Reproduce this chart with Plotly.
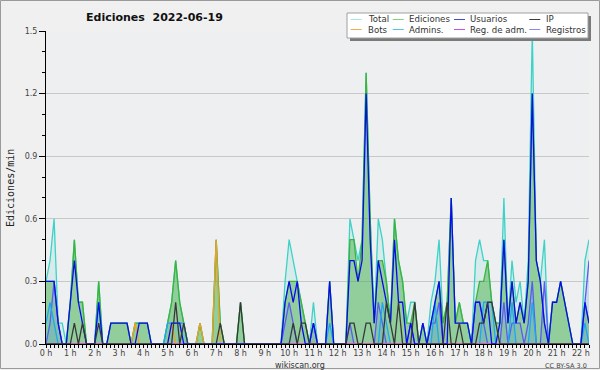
import plotly.graph_objects as go

# ---------------- data (edits per minute, 10-minute bins, 2022-06-19) ----------------
hours = [i * 10 / 60 for i in range(135)]

total = [
    0.3, 0.4, 0.6, 0.1, 0.1, 0, 0.2, 0.5, 0.2, 0.2,
    0, 0, 0, 0.3, 0, 0, 0.1, 0.1, 0.1, 0.1,
    0.1, 0, 0.1, 0.1, 0.1, 0.1, 0, 0, 0, 0,
    0.1, 0.2, 0.4, 0.2, 0.1, 0, 0, 0, 0.1, 0,
    0, 0, 0.5, 0.1, 0, 0, 0, 0, 0.2, 0,
    0, 0, 0, 0, 0, 0, 0, 0, 0, 0.3,
    0.5, 0.4, 0.3, 0.2, 0.1, 0, 0.2, 0, 0, 0,
    0.3, 0, 0, 0, 0, 0.6, 0.5, 0.4, 0.5, 1.3,
    0.6, 0.1, 0.6, 0.5, 0.3, 0.1, 0.6, 0.4, 0.3, 0.1,
    0.2, 0.2, 0, 0.1, 0, 0.2, 0.3, 0.5, 0.1, 0.2,
    0.7, 0.1, 0.2, 0.1, 0.1, 0, 0.4, 0.5, 0.4, 0.4,
    0.2, 0.1, 0.1, 0.7, 0.1, 0.4, 0.2, 0.3, 0.1, 0.4,
    1.5, 0.4, 0.3, 0.5, 0, 0.2, 0.2, 0.3, 0.2, 0.1,
    0, 0, 0, 0.4, 0.5,
]
ediciones = [
    0.3, 0.3, 0.3, 0.1, 0, 0, 0.2, 0.5, 0.2, 0.2,
    0, 0, 0, 0.3, 0, 0, 0.1, 0.1, 0.1, 0.1,
    0.1, 0, 0.1, 0.1, 0.1, 0.1, 0, 0, 0, 0,
    0.1, 0.2, 0.4, 0.2, 0.1, 0, 0, 0, 0.1, 0,
    0, 0, 0.5, 0.1, 0, 0, 0, 0, 0.2, 0,
    0, 0, 0, 0, 0, 0, 0, 0, 0, 0.2,
    0.3, 0.3, 0.3, 0.2, 0.1, 0, 0.1, 0, 0, 0,
    0.3, 0, 0, 0, 0, 0.5, 0.5, 0.3, 0.5, 1.3,
    0.6, 0.1, 0.4, 0.4, 0.3, 0.1, 0.6, 0.4, 0.3, 0.1,
    0.1, 0.2, 0, 0.1, 0, 0.1, 0.2, 0.3, 0.1, 0.2,
    0.7, 0.1, 0.2, 0.1, 0.1, 0, 0.2, 0.3, 0.3, 0.4,
    0.2, 0.1, 0.1, 0.5, 0.1, 0.3, 0.1, 0.2, 0.1, 0.3,
    1.2, 0.4, 0.3, 0.1, 0, 0.2, 0.2, 0.3, 0.2, 0.1,
    0, 0, 0, 0.2, 0.1,
]
usuarios = [
    0.3, 0.3, 0.3, 0.1, 0, 0, 0.2, 0.4, 0.2, 0.1,
    0, 0, 0, 0.2, 0, 0, 0.1, 0.1, 0.1, 0.1,
    0.1, 0, 0, 0.1, 0.1, 0.1, 0, 0, 0, 0,
    0, 0.1, 0.1, 0.1, 0, 0, 0, 0, 0, 0,
    0, 0, 0, 0, 0, 0, 0, 0, 0, 0,
    0, 0, 0, 0, 0, 0, 0, 0, 0, 0.2,
    0.3, 0.2, 0.3, 0.1, 0, 0, 0.1, 0, 0, 0,
    0.3, 0, 0, 0, 0, 0.4, 0.4, 0.3, 0.4, 1.2,
    0.5, 0.1, 0.4, 0.3, 0.2, 0.1, 0.5, 0.2, 0.2, 0,
    0.1, 0, 0, 0.1, 0, 0.1, 0.2, 0.3, 0, 0,
    0.7, 0.1, 0.1, 0.1, 0.1, 0, 0.2, 0.2, 0.1, 0.2,
    0, 0, 0.1, 0.5, 0.1, 0.3, 0.1, 0.2, 0.1, 0.3,
    1.2, 0.4, 0.3, 0.1, 0, 0.2, 0.2, 0.3, 0.2, 0.1,
    0, 0, 0, 0.2, 0.1,
]
ip = [
    0, 0, 0, 0, 0, 0, 0, 0.1, 0, 0.1,
    0, 0, 0, 0.1, 0, 0, 0, 0, 0, 0,
    0, 0, 0, 0, 0, 0, 0, 0, 0, 0,
    0, 0, 0.2, 0, 0.1, 0, 0, 0, 0, 0,
    0, 0, 0, 0.1, 0, 0, 0, 0, 0.2, 0,
    0, 0, 0, 0, 0, 0, 0, 0, 0, 0,
    0, 0.1, 0, 0.1, 0.1, 0, 0, 0, 0, 0,
    0, 0, 0, 0, 0, 0.1, 0.1, 0, 0, 0.1,
    0.1, 0, 0, 0, 0.2, 0.1, 0, 0.2, 0, 0,
    0, 0.2, 0, 0, 0, 0, 0, 0, 0, 0.2,
    0, 0, 0.1, 0, 0, 0, 0, 0.1, 0.1, 0.2,
    0.2, 0.1, 0, 0, 0, 0, 0, 0, 0, 0,
    0, 0, 0, 0, 0, 0, 0, 0, 0, 0,
    0, 0, 0, 0, 0,
]
bots = [0] * 135
for k, v in {22: 0.1, 31: 0.1, 38: 0.1, 42: 0.5}.items():
    bots[k] = v
admins = [0] * 135
for k, v in {0: 0.1, 1: 0.2, 2: 0.1, 13: 0.2, 30: 0.1, 31: 0.1, 32: 0.1, 33: 0.1, 34: 0.1,
             70: 0.1, 83: 0.2, 84: 0.1, 96: 0.2, 108: 0.2, 109: 0.2, 110: 0.2, 115: 0.2,
             120: 0.2, 133: 0.1}.items():
    admins[k] = v
reg_adm = [0] * 135
registros = [0] * 135
for k, v in {1: 0.1, 2: 0.3, 3: 0.1, 59: 0.1, 60: 0.2, 61: 0.1, 66: 0.1, 75: 0.1, 82: 0.2,
             83: 0.1, 90: 0.1, 95: 0.1, 96: 0.1, 97: 0.2, 106: 0.2, 107: 0.2, 108: 0.1,
             113: 0.2, 115: 0.1, 116: 0.1, 117: 0.1, 119: 0.1, 120: 0.3, 123: 0.3,
             133: 0.2, 134: 0.4}.items():
    registros[k] = v

# ---------------- styling ----------------
W, H = 600, 370
L, R, T, B = 46, 11, 31, 26
PW, PH = W - L - R, H - T - B


def fx(px):
    return (px - L) / PW


def fy(py):
    return (H - B - py) / PH


C_TOTAL = "#3dd2c8"
C_EDI = "#3cb43c"
C_USU = "#0a0aee"
C_IP = "#383838"
C_BOTS = "#f0a020"
C_ADM = "#1ea8f0"
C_REGADM = "#d040d0"
C_REG = "#5a5af5"

fig = go.Figure()


def add(y, color, name, fill=None, fillcolor=None, width=1.3):
    fig.add_trace(go.Scatter(
        x=hours, y=y, mode="lines", name=name, showlegend=False,
        line=dict(color=color, width=width),
        fill=fill, fillcolor=fillcolor, hoverinfo="skip",
    ))


add(total, C_TOTAL, "Total", "tozeroy", "rgba(61,210,200,0.13)")
add(ediciones, C_EDI, "Ediciones", "tozeroy", "rgba(60,170,60,0.45)")
add(registros, C_REG, "Registros", "tozeroy", "rgba(90,90,245,0.12)")
add(admins, C_ADM, "Admins.", "tozeroy", "rgba(30,168,240,0.12)")
add(bots, C_BOTS, "Bots")
add(reg_adm, C_REGADM, "Reg. de adm.")
add(usuarios, C_USU, "Usuarios")
add(ip, C_IP, "IP")

shapes = []
annotations = []

# outer frame
shapes.append(dict(type="rect", xref="paper", yref="paper", layer="above",
                   x0=fx(0.5), x1=fx(599.5), y0=fy(368.5), y1=fy(0.5),
                   line=dict(color="#9a9a9a", width=1)))

# legend (drawn manually)
shapes.append(dict(type="rect", xref="paper", yref="paper", layer="above",
                   x0=fx(350), x1=fx(591), y0=fy(41), y1=fy(16),
                   fillcolor="#7a7a7a", line=dict(width=0)))
shapes.append(dict(type="rect", xref="paper", yref="paper", layer="above",
                   x0=fx(347), x1=fx(588), y0=fy(38), y1=fy(13),
                   fillcolor="white", line=dict(color="#a0a0a0", width=1)))

legend_rows = [
    [("Total", "#a6e6e2"), ("Ediciones", "#86d086"), ("Usuarios", "#4848d0"), ("IP", "#3c3c3c")],
    [("Bots", "#f0aa50"), ("Admins.", "#50c8e0"), ("Reg. de adm.", "#c850e6"), ("Registros", "#8888f0")],
]
sample_x = [350.7, 392.7, 454.0, 529.3]
text_x = [365.5, 406.5, 468.0, 543.8]
row_y = [19.5, 29.5]
for r, row in enumerate(legend_rows):
    for c, (label, col) in enumerate(row):
        shapes.append(dict(type="line", xref="paper", yref="paper", layer="above",
                           x0=fx(sample_x[c]), x1=fx(sample_x[c] + 11),
                           y0=fy(row_y[r]), y1=fy(row_y[r]),
                           line=dict(color=col, width=1)))
        annotations.append(dict(xref="paper", yref="paper", x=fx(text_x[c]), y=fy(row_y[r]),
                                xanchor="left", yanchor="middle", showarrow=False,
                                text=label, font=dict(family="DejaVu Sans", size=8.6, color="#333333")))

# title
annotations.append(dict(xref="paper", yref="paper", x=fx(154), y=fy(17),
                        xanchor="center", yanchor="middle", showarrow=False,
                        text="<b>Ediciones\u00a0\u00a02022-06-19</b>",
                        font=dict(family="DejaVu Sans", size=11, color="#111111")))
# y-axis title
annotations.append(dict(xref="paper", yref="paper", x=fx(10), y=fy(188),
                        xanchor="center", yanchor="middle", showarrow=False, textangle=-90,
                        text="Ediciones/min",
                        font=dict(family="DejaVu Sans Mono", size=10, color="#222222")))
# footer
annotations.append(dict(xref="paper", yref="paper", x=fx(300), y=fy(365.5),
                        xanchor="center", yanchor="middle", showarrow=False,
                        text="wikiscan.org",
                        font=dict(family="DejaVu Sans", size=8, color="#333333")))
annotations.append(dict(xref="paper", yref="paper", x=fx(589), y=fy(366),
                        xanchor="right", yanchor="middle", showarrow=False,
                        text="CC BY-SA 3.0",
                        font=dict(family="DejaVu Sans", size=6.5, color="#444444")))

fig.update_layout(
    width=W, height=H,
    margin=dict(l=L, r=R, t=T, b=B, pad=0),
    paper_bgcolor="#f0f0f0",
    plot_bgcolor="#eeeff0",
    showlegend=False,
    shapes=shapes,
    annotations=annotations,
    xaxis=dict(
        range=[0, hours[-1]], tickmode="linear", tick0=0, dtick=1, ticksuffix=" h",
        showgrid=False, zeroline=False, showline=True, linecolor="black", linewidth=1,
        ticks="outside", ticklen=3, tickcolor="black", ticklabelstandoff=-2,
        minor=dict(dtick=1 / 6, ticks="outside", ticklen=3, tickcolor="black", showgrid=False),
        tickfont=dict(family="DejaVu Sans", size=8, color="#444444"),
        fixedrange=True,
    ),
    yaxis=dict(
        range=[0, 1.5], tickmode="linear", tick0=0, dtick=0.3, tickformat=".1f",
        showgrid=True, gridcolor="#c8c8c8", gridwidth=1, zeroline=False,
        showline=True, linecolor="black", linewidth=1,
        ticks="outside", ticklen=6, tickcolor="black",
        minor=dict(dtick=0.1, ticks="outside", ticklen=3, tickcolor="black", showgrid=False),
        tickfont=dict(family="DejaVu Sans", size=8, color="#444444"),
        fixedrange=True,
    ),
)

fig.write_html(
    "out.html",
    config={"displayModeBar": False},
    post_script="document.body.style.margin='0';document.body.style.overflow='hidden';",
)
